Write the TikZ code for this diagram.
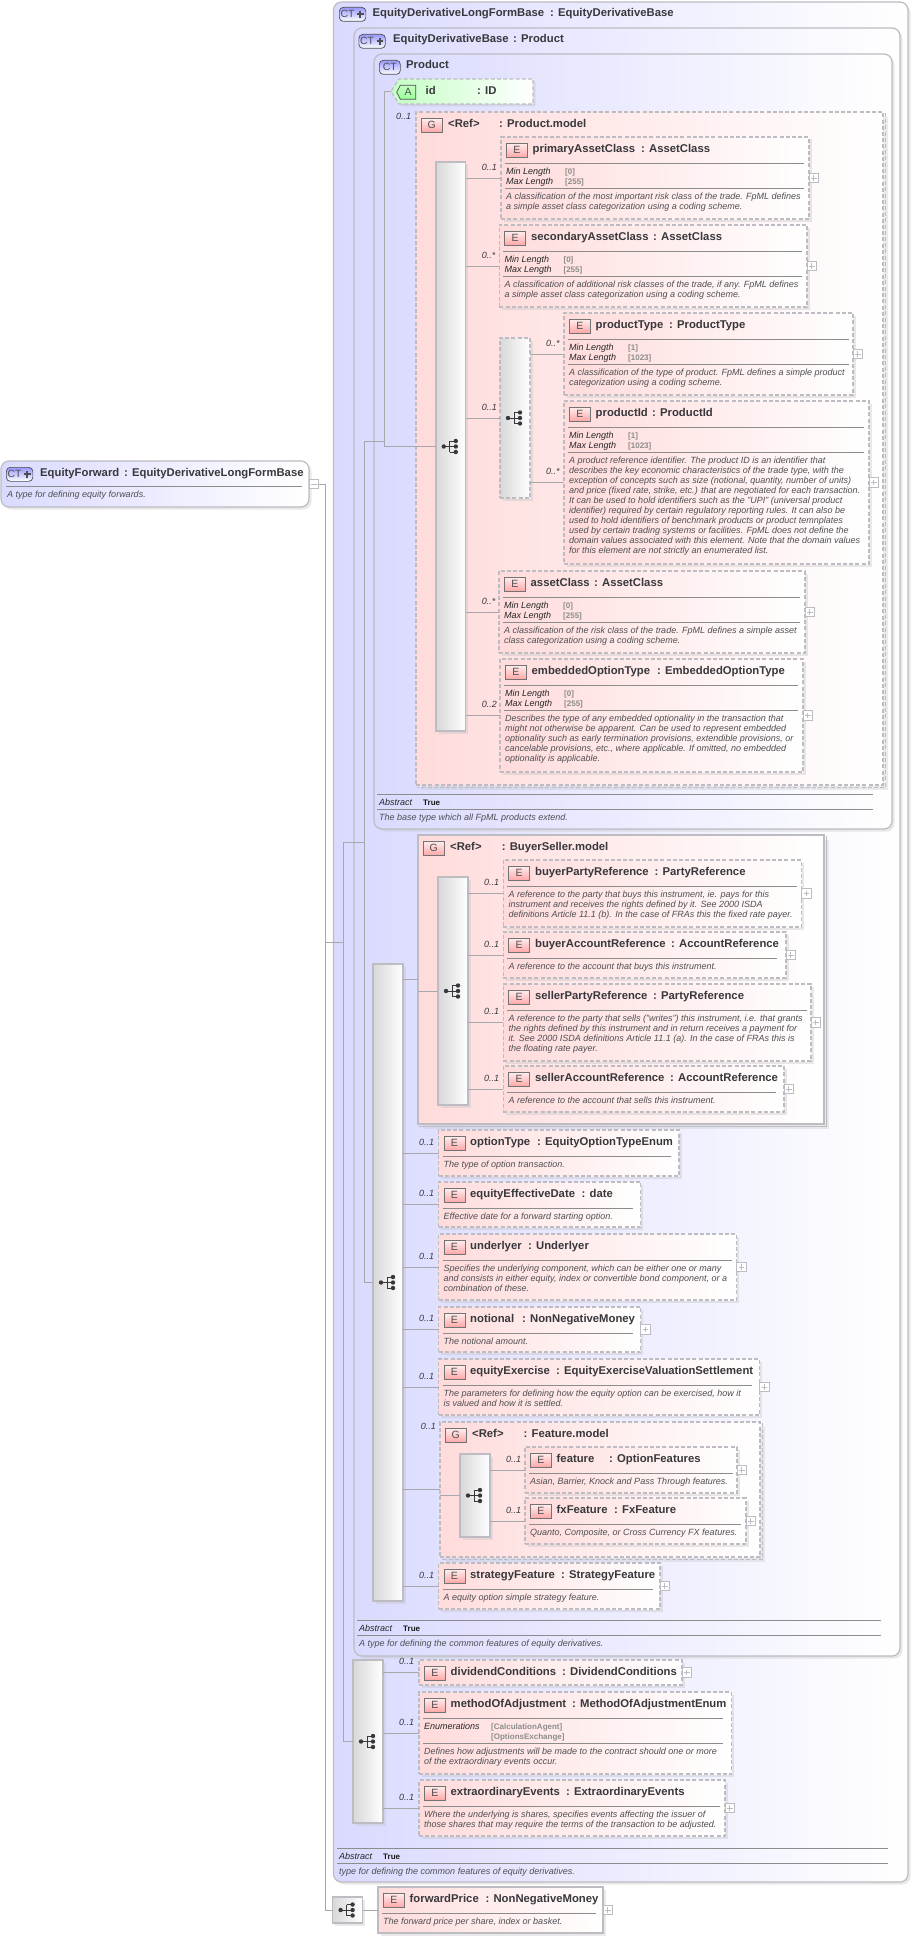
\documentclass[tikz,border=0pt]{standalone}
\usepackage{fontspec}
\setmainfont{Liberation Sans}
\usetikzlibrary{calc,fit,shadows,shapes.symbols}

\definecolor{ctblue}{RGB}{218,218,255}
\definecolor{elpink}{RGB}{255,219,219}
\definecolor{attgreen}{RGB}{196,255,196}
\definecolor{barside}{RGB}{216,216,216}
\definecolor{boxline}{RGB}{188,188,194}
\definecolor{wireline}{RGB}{168,168,172}
\definecolor{inkdark}{RGB}{56,56,60}
\definecolor{inknote}{RGB}{78,78,82}
\definecolor{valgray}{RGB}{140,140,140}

\tikzstyle{softshadow} = [drop shadow={shadow xshift=2.5pt,shadow yshift=-2.5pt,fill=black!25,opacity=.35}]
\tikzstyle{wideshadow} = [drop shadow={shadow xshift=5pt,shadow yshift=-5pt,fill=black!25,opacity=.3}]
\tikzstyle{ctbox}    = [draw=boxline, line width=1.2pt, rounded corners=8pt, left color=ctblue, right color=white, inner sep=0pt, outer sep=0pt, softshadow]
\tikzstyle{elbox}    = [draw=boxline, line width=1.1pt, dash pattern=on 4pt off 2.2pt, left color=elpink, right color=white, inner sep=0pt, outer sep=0pt, softshadow]
\tikzstyle{elsolid}  = [draw=boxline, line width=1.1pt, left color=elpink, right color=white, inner sep=0pt, outer sep=0pt, softshadow]
\tikzstyle{grpdash}  = [draw=boxline, line width=1.1pt, dash pattern=on 4pt off 2.2pt, left color=elpink, right color=white, inner sep=0pt, outer sep=0pt, wideshadow]
\tikzstyle{grpsolid} = [draw=boxline, line width=1.1pt, left color=elpink, right color=white, inner sep=0pt, outer sep=0pt, wideshadow]
\tikzstyle{grpdashedge}  = [draw=boxline, line width=1.1pt, dash pattern=on 4pt off 2.2pt]
\tikzstyle{grpsolidedge} = [draw=boxline, line width=1.6pt]
\tikzstyle{seqbar}   = [draw=boxline, line width=1.1pt, left color=barside, right color=white, inner sep=0pt, outer sep=0pt, softshadow]
\tikzstyle{seqdash}  = [seqbar, dash pattern=on 4pt off 2.2pt]
\tikzstyle{attbox}   = [signal, signal to=west, signal pointer angle=115, draw=boxline, line width=1.1pt, dash pattern=on 4pt off 2.2pt, left color=attgreen, right color=white, inner sep=0pt, outer sep=0pt, minimum width=142pt, minimum height=25pt, softshadow]
\tikzstyle{iconel}   = [draw=black!55, line width=.6pt, top color=elpink!50, bottom color=red!35, anchor=north west, minimum width=21pt, minimum height=14pt, inner sep=0pt, text=inknote, font=\fontsize{10.5}{12}\selectfont]
\tikzstyle{iconct}   = [draw=inknote, line width=.7pt, rounded corners=4pt, top color=ctblue!70!blue, bottom color=white, anchor=north west, minimum height=14pt, inner sep=0pt, text=inknote, font=\fontsize{10.5}{12}\selectfont]
\tikzstyle{iconplus} = [iconct, minimum width=26.5pt, path picture={
			\draw[inknote, line width=2.2pt] ($(path picture bounding box.east)+(-5.5,-3.2)$) -- ($(path picture bounding box.east)+(-5.5,3.2)$);
			\draw[inknote, line width=2.2pt] ($(path picture bounding box.east)+(-8.7,0)$) -- ($(path picture bounding box.east)+(-2.3,0)$);}]
\tikzstyle{iconatt}  = [signal, signal to=west, signal pointer angle=125, draw=inknote, line width=.7pt, top color=attgreen, bottom color=green!40, anchor=north west, minimum width=19pt, minimum height=14pt, inner sep=0pt, text=inknote, font=\fontsize{10.5}{12}\selectfont]
\tikzstyle{elname}   = [anchor=base west, inner sep=0pt, text=inkdark, font=\fontsize{11.3}{13}\selectfont\bfseries]
\tikzstyle{elnote}   = [anchor=north west, inner sep=0pt, align=left, text=inknote, font=\fontsize{9}{10}\selectfont\itshape]
\tikzstyle{faclabel} = [anchor=base west, inner sep=0pt, text=black!85, font=\fontsize{9}{10}\selectfont\itshape]
\tikzstyle{facvalue} = [anchor=base west, inner sep=0pt, text=valgray, font=\fontsize{8}{10}\selectfont\bfseries]
\tikzstyle{truetext} = [anchor=base west, inner sep=0pt, text=black!90, font=\fontsize{8}{10}\selectfont\bfseries]
\tikzstyle{occur}    = [anchor=west, inner sep=0pt, text=inkdark, font=\fontsize{9}{10}\selectfont\itshape]
\tikzstyle{wire}     = [draw=wireline, line width=.9pt]
\tikzstyle{elrule}   = [draw=black!45, line width=.8pt]
\tikzstyle{minusbox} = [draw=boxline, fill=white, line width=.8pt, anchor=west, minimum size=9.5pt, inner sep=0pt, outer sep=0pt, path picture={
			\draw[boxline, line width=.8pt] ($(path picture bounding box.west)+(2,0)$) -- ($(path picture bounding box.east)+(-2,0)$);}]
\tikzstyle{plusbox}  = [minusbox, path picture={
			\draw[boxline, line width=.8pt] ($(path picture bounding box.west)+(2,0)$) -- ($(path picture bounding box.east)+(-2,0)$);
			\draw[boxline, line width=.8pt] ($(path picture bounding box.north)+(0,2)$) -- ($(path picture bounding box.south)+(0,-2)$);}]

\tikzset{seqicon/.pic={
		\draw[inkdark, line width=.8pt] (-7,0) -- (5,0) (-1,-5.5) -- (-1,5.5) (-1,-5.5) -- (5,-5.5) (-1,5.5) -- (5,5.5);
		\fill[inkdark] (-7,0) circle (2.2pt) (5,-5.5) circle (2.2pt) (5,0) circle (2.2pt) (5,5.5) circle (2.2pt);
	}}

% box from two corners, named #2, corners kept as #2a and #2b
\newcommand{\cornerbox}[6]{
	\coordinate (#2a) at (#3,#4);
	\coordinate (#2b) at (#5,#6);
	\node[#1, fit=(#2a)(#2b)] (#2) {};
}
% element head: style, name, corners, text, colon position, type
\newcommand{\elem}[9][elbox]{
	\cornerbox{#1}{#2}{#3}{#4}{#5}{#6}
	\node[iconel] (#2icon) at ($(#2a)+(5,6)$) {E};
	\node[elname] (#2name) at ($(#2a)+(31.5,15.3)$) {#7};
	\node[elname] (#2type) at ($(#8,0)+(0,#4)+(0,15.3)$) {: #9};
}
% group head, with the second edge on its right and bottom sides
\newcommand{\group}[8]{
	\cornerbox{#1}{#2}{#3}{#4}{#5}{#6}
	\draw[#1edge] ($(#2a -| #2b)+(2.5,1)$) -- ($(#2b)+(2.5,2.5)$) -- ($(#2a |- #2b)+(1,2.5)$);
	\node[iconel] (#2icon) at ($(#2a)+(5,6)$) {G};
	\node[elname] (#2ref) at ($(#2a)+(32,15.3)$) {<Ref>};
	\node[elname] (#2type) at ($(#7,0)+(0,#4)+(0,15.3)$) {: #8};
}
% rule and text under an element head
\newcommand{\elnotes}[3]{
	\draw[elrule] ($(#1a)+(4,26)$) -- ($(#1a)+(#2,26)$);
	\node[elnote] (#1note) at ($(#1a)+(5,30.5)$) {\strut #3};
}
% rule, two facet rows, rule and text
\newcommand{\elfacets}[8]{
	\draw[elrule] ($(#1a)+(4,26)$) -- ($(#1a)+(#2,26)$);
	\node[faclabel] (#1labela) at ($(#1a)+(5,37.5)$) {#3};
	\node[faclabel] (#1labelb) at ($(#1a)+(5,47.5)$) {#4};
	\node[facvalue] (#1vala) at ($(#1a)+(#5,37.5)$) {#6};
	\node[facvalue] (#1valb) at ($(#1a)+(#5,47.5)$) {#7};
	\draw[elrule] ($(#1a)+(4,51)$) -- ($(#1a)+(#2,51)$);
	\node[elnote] (#1note) at ($(#1a)+(5,55.5)$) {\strut #8};
}
\newcommand{\elplus}[1]{\node[plusbox] (#1plus) at (#1.east) {};}
% sequence bar with its icon
\newcommand{\seqnode}[6]{
	\cornerbox{#1}{#2}{#3}{#4}{#5}{#6}
	\pic at (#2.center) {seqicon};
}
% abstract block at the foot of a complex type
\newcommand{\ctfoot}[5]{
	\draw[elrule] (#2,#4) -- (#3,#4);
	\node[faclabel] (#1abs) at ($(#2,#4)+(2,11)$) {Abstract};
	\node[truetext] (#1true) at ($(#2,#4)+(46,11)$) {True};
	\draw[elrule] ($(#2,#4)+(0,15)$) -- ($(#3,#4)+(0,15)$);
	\node[elnote] (#1note) at ($(#2,#4)+(2,19)$) {\strut #5};
}
% connector from a bar to a box, with its occurrence
\newcommand{\link}[3]{
	\draw[wire] (#1.east |- #2.west) -- (#2.west);
	\node[occur] (#2occ) at ($(#1.east |- #2.west)+(16,-11)$) {#3};
}

\begin{document}
\begin{tikzpicture}[x=1pt,y=-1pt]
	\useasboundingbox (0,0) rectangle (911,1937);

	% the type itself
	\cornerbox{ctbox}{fwd}{1}{461}{309}{507}
	\node[iconplus] (fwdicon) at (6,467) {CT\kern10pt};
	\node[elname] (fwdname) at (40,476) {EquityForward};
	\node[elname] (fwdtype) at (124,476) {: EquityDerivativeLongFormBase};
	\draw[elrule] (6,486) -- (302,486);
	\node[elnote] (fwdnote) at (7,490) {\strut A type for defining equity forwards.};
	\node[minusbox] (fwdminus) at (fwd.east) {};

	% nested complex types
	\cornerbox{ctbox}{longbase}{333.5}{2}{908}{1882}
	\node[iconplus] (longicon) at (339,7) {CT\kern10pt};
	\node[elname] (longname) at (372.5,17) {EquityDerivativeLongFormBase};
	\node[elname] (longtype) at (550,17) {: EquityDerivativeBase};
	\ctfoot{long}{337}{888}{1848}{type for defining the common features of equity derivatives.}

	\cornerbox{ctbox}{base}{354}{28}{900}{1656}
	\node[iconplus] (baseicon) at (358.5,34) {CT\kern10pt};
	\node[elname] (basename) at (393,43) {EquityDerivativeBase};
	\node[elname] (basetype) at (513,43) {: Product};
	\ctfoot{base}{357}{881}{1620}{A type for defining the common features of equity derivatives.}

	\cornerbox{ctbox}{product}{374}{54}{892}{829}
	\node[iconct, minimum width=21pt] (producticon) at (379,60) {CT};
	\node[elname] (productname) at (406,69) {Product};
	\ctfoot{prod}{377}{873}{794}{The base type which all FpML products extend.}

	% attribute
	\node[attbox] (attid) at (466,91.5) {};
	\node[iconatt] (atticon) at (400,85) {A};
	\node[elname] (attname) at (425.5,95) {id};
	\node[elname] (atttype) at (477,95) {: ID};

	% Product.model
	\group{grpdash}{modelg}{416}{112}{883}{785}{499}{Product.model}
	\node[occur] (modelocc) at (396,116) {0..1};
	\seqnode{seqbar}{seqa}{436}{162}{465.6}{731}

	\elem{prim}{501}{137}{809}{219}{primaryAssetClass}{641}{AssetClass}
	\elfacets{prim}{303}{Min Length}{Max Length}{64}{[0]}{[255]}{A classification of the most important risk class of the trade. FpML defines\\a simple asset class categorization using a coding scheme.}
	\elplus{prim}

	\elem{second}{499.4}{225}{807}{307}{secondaryAssetClass}{653}{AssetClass}
	\elfacets{second}{303}{Min Length}{Max Length}{64}{[0]}{[255]}{A classification of additional risk classes of the trade, if any. FpML defines\\a simple asset class categorization using a coding scheme.}
	\elplus{second}

	\seqnode{seqdash}{seqb}{500}{338}{530}{498}

	\elem{ptype}{564}{313}{853}{395}{productType}{669}{ProductType}
	\elfacets{ptype}{285}{Min Length}{Max Length}{64}{[1]}{[1023]}{A classification of the type of product. FpML defines a simple product\\categorization using a coding scheme.}
	\elplus{ptype}

	\elem{pid}{564}{401}{869}{564}{productId}{652}{ProductId}
	\elfacets{pid}{300}{Min Length}{Max Length}{64}{[1]}{[1023]}{A product reference identifier. The product ID is an identifier that\\describes the key economic characteristics of the trade type, with the\\exception of concepts such as size (notional, quantity, number of units)\\and price (fixed rate, strike, etc.) that are negotiated for each transaction.\\It can be used to hold identifiers such as the "UPI" (universal product\\identifier) required by certain regulatory reporting rules. It can also be\\used to hold identifiers of benchmark products or product temnplates\\used by certain trading systems or facilities. FpML does not define the\\domain values associated with this element. Note that the domain values\\for this element are not strictly an enumerated list.}
	\elplus{pid}

	\elem{asset}{499}{571}{805}{653}{assetClass}{594}{AssetClass}
	\elfacets{asset}{301}{Min Length}{Max Length}{64}{[0]}{[255]}{A classification of the risk class of the trade. FpML defines a simple asset\\class categorization using a coding scheme.}
	\elplus{asset}

	\elem{embed}{500}{659}{803}{772}{embeddedOptionType}{657}{EmbeddedOptionType}
	\elfacets{embed}{298}{Min Length}{Max Length}{64}{[0]}{[255]}{Describes the type of any embedded optionality in the transaction that\\might not otherwise be apparent. Can be used to represent embedded\\optionality such as early termination provisions, extendible provisions, or\\cancelable provisions, etc., where applicable. If omitted, no embedded\\optionality is applicable.}
	\elplus{embed}

	% sequence of EquityDerivativeBase
	\seqnode{seqbar}{seqc}{373}{964}{403}{1601}

	\group{grpsolid}{buyerg}{418}{835}{824}{1124}{501.6}{BuyerSeller.model}
	\seqnode{seqbar}{seqd}{438}{877}{468}{1105}

	\elem{buyerp}{503.4}{860}{801.5}{927}{buyerPartyReference}{654.5}{PartyReference}
	\elnotes{buyerp}{294}{A reference to the party that buys this instrument, ie. pays for this\\instrument and receives the rights defined by it. See 2000 ISDA\\definitions Article 11.1 (b). In the case of FRAs this the fixed rate payer.}
	\elplus{buyerp}

	\elem{buyera}{503.4}{932}{786}{978}{buyerAccountReference}{671}{AccountReference}
	\elnotes{buyera}{274}{A reference to the account that buys this instrument.}
	\elplus{buyera}

	\elem{sellerp}{503.4}{984}{811}{1061}{sellerPartyReference}{653}{PartyReference}
	\elnotes{sellerp}{303.6}{A reference to the party that sells ("writes") this instrument, i.e. that grants\\the rights defined by this instrument and in return receives a payment for\\it. See 2000 ISDA definitions Article 11.1 (a). In the case of FRAs this is\\the floating rate payer.}
	\elplus{sellerp}

	\elem{sellera}{503.4}{1066}{784}{1112}{sellerAccountReference}{670}{AccountReference}
	\elnotes{sellera}{272.6}{A reference to the account that sells this instrument.}
	\elplus{sellera}

	\elem{option}{438.5}{1130}{679}{1176}{optionType}{537}{EquityOptionTypeEnum}
	\elnotes{option}{232.5}{The type of option transaction.}

	\elem{effect}{438.5}{1182}{640.6}{1227}{equityEffectiveDate}{581.5}{date}
	\elnotes{effect}{194}{Effective date for a forward starting option.}

	\elem{under}{438.5}{1234}{736.6}{1300}{underlyer}{528}{Underlyer}
	\elnotes{under}{293.5}{Specifies the underlying component, which can be either one or many\\and consists in either equity, index or convertible bond component, or a\\combination of these.}
	\elplus{under}

	\elem{notion}{438.5}{1307}{640.6}{1352}{notional}{522}{NonNegativeMoney}
	\elnotes{notion}{194}{The notional amount.}
	\elplus{notion}

	\elem{exer}{438.5}{1359}{759.5}{1415}{equityExercise}{556}{EquityExerciseValuationSettlement}
	\elnotes{exer}{313}{The parameters for defining how the equity option can be exercised, how it\\is valued and how it is settled.}
	\elplus{exer}

	\group{grpdash}{featg}{440}{1422}{760}{1557}{523.5}{Feature.model}
	\node[occur] (featocc) at (420.6,1426) {0..1};
	\seqnode{seqbar}{seqe}{460}{1454}{490}{1537}

	\elem{feat}{525}{1447}{737}{1493}{feature}{609}{OptionFeatures}
	\elnotes{feat}{207.5}{Asian, Barrier, Knock and Pass Through features.}
	\elplus{feat}

	\elem{fxfeat}{525}{1498}{746}{1544}{fxFeature}{614}{FxFeature}
	\elnotes{fxfeat}{216}{Quanto, Composite, or Cross Currency FX features.}
	\elplus{fxfeat}

	\elem{strat}{438.5}{1563}{660}{1609}{strategyFeature}{561}{StrategyFeature}
	\elnotes{strat}{214}{A equity option simple strategy feature.}
	\elplus{strat}

	% sequence of EquityDerivativeLongFormBase
	\seqnode{seqbar}{seqf}{353}{1660}{383}{1823}

	\elem{divid}{419}{1660}{682}{1685}{dividendConditions}{562}{DividendConditions}
	\elplus{divid}

	\elem{method}{419}{1692}{731.6}{1774}{methodOfAdjustment}{572}{MethodOfAdjustmentEnum}
	\elfacets{method}{304}{Enumerations}{}{72}{[CalculationAgent]}{[OptionsExchange]}{Defines how adjustments will be made to the contract should one or more\\of the extraordinary events occur.}

	\elem{extra}{419}{1780}{725}{1836}{extraordinaryEvents}{566}{ExtraordinaryEvents}
	\elnotes{extra}{301}{Where the underlying is shares, specifies events affecting the issuer of\\those shares that may require the terms of the transaction to be adjusted.}
	\elplus{extra}

	% last sequence
	\seqnode{seqbar}{seqg}{332.5}{1897}{362.7}{1923}

	\elem[elsolid]{fprice}{378}{1887}{603}{1933}{forwardPrice}{485.4}{NonNegativeMoney}
	\elnotes{fprice}{217.7}{The forward price per share, index or basket.}
	\elplus{fprice}

	% trunks
	\coordinate (trunka) at (325,484);
	\coordinate (trunkb) at (343.6,842);
	\coordinate (trunkc) at (364,441);
	\coordinate (trunkd) at (384,92);

	\draw[wire] (fwdminus.east) -- (trunka) -- (trunka |- seqg.west) -- (seqg.west);
	\draw[wire] (trunka |- longbase.west) -- (trunkb |- longbase.west);
	\draw[wire] (trunkb |- base.west) -- (trunkb |- seqf.west) -- (seqf.west);
	\draw[wire] (trunkb |- base.west) -- (trunkc |- base.west);
	\draw[wire] (trunkc |- product.west) -- (trunkc |- seqc.west) -- (seqc.west);
	\draw[wire] (trunkc |- product.west) -- (trunkd |- product.west);
	\draw[wire] (attid.west) -- (trunkd |- attid.west) -- (trunkd |- seqa.west) -- (seqa.west);

	% bars to their children
	\link{seqa}{prim}{0..1}
	\link{seqa}{second}{0..*}
	\link{seqa}{seqb}{0..1}
	\link{seqb}{ptype}{0..*}
	\link{seqb}{pid}{0..*}
	\link{seqa}{asset}{0..*}
	\link{seqa}{embed}{0..2}

	\draw[wire] (seqc.east |- buyerg.west) -- (buyerg.west);
	\draw[wire] (buyerg.west |- seqd.west) -- (seqd.west);
	\link{seqd}{buyerp}{0..1}
	\link{seqd}{buyera}{0..1}
	\link{seqd}{sellerp}{0..1}
	\link{seqd}{sellera}{0..1}

	\link{seqc}{option}{0..1}
	\link{seqc}{effect}{0..1}
	\link{seqc}{under}{0..1}
	\link{seqc}{notion}{0..1}
	\link{seqc}{exer}{0..1}
	\link{seqc}{strat}{0..1}
	\draw[wire] (seqc.east |- featg.west) -- (featg.west);
	\draw[wire] (featg.west |- seqe.west) -- (seqe.west);
	\link{seqe}{feat}{0..1}
	\link{seqe}{fxfeat}{0..1}

	\link{seqf}{divid}{0..1}
	\link{seqf}{method}{0..1}
	\link{seqf}{extra}{0..1}
	\draw[wire] (seqg.east |- fprice.west) -- (fprice.west);
\end{tikzpicture}
\end{document}
